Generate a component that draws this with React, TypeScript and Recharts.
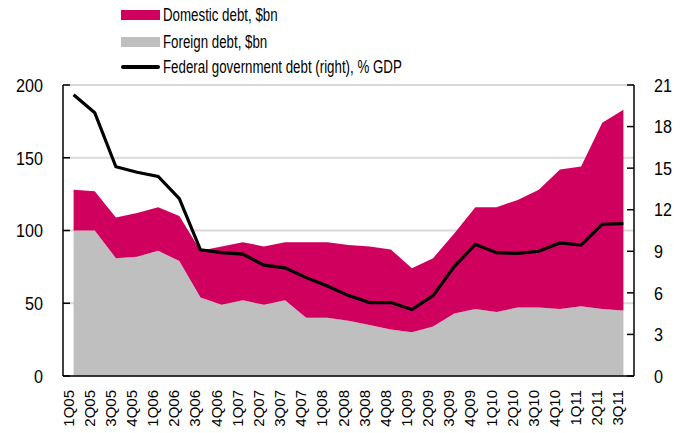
import { ComposedChart, Area, Line, XAxis, YAxis, CartesianGrid } from 'recharts';

const quarters = [
  '1Q05', '2Q05', '3Q05', '4Q05', '1Q06', '2Q06', '3Q06', '4Q06', '1Q07',
  '2Q07', '3Q07', '4Q07', '1Q08', '2Q08', '3Q08', '4Q08', '1Q09', '2Q09',
  '3Q09', '4Q09', '1Q10', '2Q10', '3Q10', '4Q10', '1Q11', '2Q11', '3Q11',
];

const foreignDebt = [
  100, 100, 81, 82, 86, 79, 54, 49, 52, 49, 52, 40, 40, 38, 35, 32, 30, 34,
  43, 46, 44, 47, 47, 46, 48, 46, 45,
];

const totalDebt = [
  128, 127, 109, 112, 116, 110, 86, 89, 92, 89, 92, 92, 92, 90, 89, 87, 74, 81,
  98, 116, 116, 121, 128, 142, 144, 174, 183,
];

const domesticDebt = totalDebt.map((t, i) => t - foreignDebt[i]);

const federalDebtGdp = [
  20.3, 19.0, 15.1, 14.7, 14.4, 12.8, 9.1, 8.9, 8.8, 8.0, 7.8, 7.1, 6.5, 5.8,
  5.3, 5.3, 4.8, 5.8, 7.9, 9.5, 8.9, 8.85, 9.0, 9.6, 9.45, 10.95, 11.0,
];

const leftTicks = [0, 50, 100, 150, 200];
const rightTicks = [0, 3, 6, 9, 12, 15, 18, 21];

const data = quarters.map((q, i) => ({
  q,
  foreign: foreignDebt[i],
  domestic: domesticDebt[i],
  federal: federalDebtGdp[i],
}));

const FONT = '"Liberation Sans", Arial, sans-serif';
const MAGENTA = '#d0005f';
const GREY = '#bfbfbf';

// the original uses a condensed face, so squeeze the text horizontally
const LeftTick = (props: any) => {
  const { x, y, payload } = props;
  return (
    <g>
      <line x1={x + 20} x2={x + 27} y1={y} y2={y} stroke="#000" strokeWidth={1.5} />
      <text
        transform={`translate(${x} ${y}) scale(0.85 1)`}
        dy="0.355em"
        textAnchor="end"
        fontSize={19}
        fontFamily={FONT}
        fill="#000"
      >
        {payload.value}
      </text>
    </g>
  );
};

const RightTick = (props: any) => {
  const { x, y, payload } = props;
  return (
    <g>
      <line x1={x - 20} x2={x - 27} y1={y} y2={y} stroke="#000" strokeWidth={1.5} />
      <text
        transform={`translate(${x} ${y}) scale(0.85 1)`}
        dy="0.355em"
        textAnchor="start"
        fontSize={19}
        fontFamily={FONT}
        fill="#000"
      >
        {payload.value}
      </text>
    </g>
  );
};

const QuarterTick = (props: any) => {
  const { x, y, payload } = props;
  const ty = y + 12;
  return (
    <text
      x={x}
      y={ty}
      transform={`rotate(-90 ${x} ${ty})`}
      textAnchor="end"
      fontSize={15}
      fontFamily={FONT}
      fill="#000"
    >
      {payload.value}
    </text>
  );
};

const legendItems = [
  { label: 'Domestic debt, $bn', kind: 'box', color: MAGENTA, top: 15 },
  { label: 'Foreign debt, $bn', kind: 'box', color: GREY, top: 42 },
  { label: 'Federal government debt (right), % GDP', kind: 'line', color: '#000', top: 67 },
];

export default function App() {
  return (
    <div style={{ position: 'absolute', left: 0, top: 0, width: 694, height: 433, background: '#fff' }}>
      <ComposedChart
        width={694}
        height={433}
        data={data}
        margin={{ top: 85, right: 0, bottom: 0, left: 0 }}
      >
        <CartesianGrid horizontal vertical={false} stroke="#d9d9d9" strokeWidth={2} yAxisId="left" />
        <XAxis
          dataKey="q"
          interval={0}
          height={57}
          padding={{ left: 10.6, right: 10.6 }}
          tickLine={false}
          tickSize={0}
          tick={<QuarterTick />}
          axisLine={{ stroke: '#000', strokeWidth: 1.5 }}
        />
        <YAxis
          yAxisId="left"
          orientation="left"
          width={63}
          domain={[0, 200]}
          ticks={leftTicks}
          tickLine={false}
          tickSize={0}
          tickMargin={20}
          tick={<LeftTick />}
          axisLine={{ stroke: '#000', strokeWidth: 1.5 }}
        />
        <YAxis
          yAxisId="right"
          orientation="right"
          width={60}
          domain={[0, 21]}
          ticks={rightTicks}
          tickLine={false}
          tickSize={0}
          tickMargin={20}
          tick={<RightTick />}
          axisLine={{ stroke: '#000', strokeWidth: 1.5 }}
        />
        <Area
          yAxisId="left"
          type="linear"
          dataKey="foreign"
          stackId="debt"
          fill={GREY}
          fillOpacity={1}
          stroke="none"
          isAnimationActive={false}
        />
        <Area
          yAxisId="left"
          type="linear"
          dataKey="domestic"
          stackId="debt"
          fill={MAGENTA}
          fillOpacity={1}
          stroke="none"
          isAnimationActive={false}
        />
        <Line
          yAxisId="right"
          type="linear"
          dataKey="federal"
          stroke="#000"
          strokeWidth={3.2}
          dot={false}
          isAnimationActive={false}
        />
      </ComposedChart>
      {legendItems.map((item) => (
        <div
          key={item.label}
          style={{
            position: 'absolute',
            left: 121,
            top: item.top - 10,
            height: 20,
            display: 'flex',
            alignItems: 'center',
            fontFamily: FONT,
            fontSize: 17.5,
            color: '#000',
            whiteSpace: 'nowrap',
          }}
        >
          <div
            style={{
              width: 39,
              height: item.kind === 'box' ? 10 : 3.5,
              background: item.color,
              marginRight: 3,
              borderRadius: item.kind === 'line' ? 2 : 0,
            }}
          />
          <span style={{ display: 'inline-block', transform: 'scaleX(0.76)', transformOrigin: 'left center' }}>
            {item.label}
          </span>
        </div>
      ))}
    </div>
  );
}
